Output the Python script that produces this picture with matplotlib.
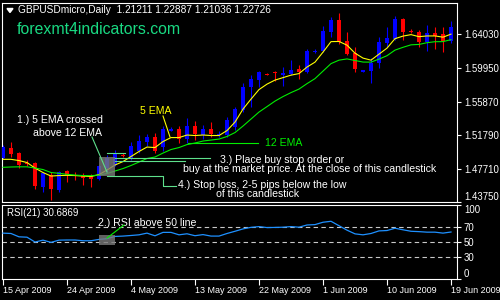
import matplotlib
matplotlib.use('Agg')
import matplotlib.pyplot as plt
from matplotlib.lines import Line2D
from matplotlib.patches import Rectangle, Polygon
import numpy as np

plt.rcParams['font.family'] = ['Liberation Sans', 'DejaVu Sans']

# ---------------- data ----------------
date_labels = ['15 Apr 2009', '24 Apr 2009', '4 May 2009', '13 May 2009',
               '22 May 2009', '1 Jun 2009', '10 Jun 2009', '19 Jun 2009']
date_bars = [0, 8, 16, 24, 32, 40, 48, 56]

opens = [1.4906, 1.5028, 1.4960, 1.4846, 1.4838, 1.4554, 1.4696, 1.4515, 1.4741, 1.4702,
         1.4693, 1.4684, 1.4648, 1.4781, 1.4818, 1.4942, 1.4903, 1.4991, 1.5097, 1.5154,
         1.5040, 1.5234, 1.5258, 1.5137, 1.5291, 1.5185, 1.5251, 1.5182, 1.5178, 1.5282,
         1.5485, 1.5760, 1.5849, 1.5925, 1.5940, 1.5913, 1.5922, 1.5979, 1.5950, 1.6188,
         1.6197, 1.6435, 1.6577, 1.6322, 1.6173, 1.5950, 1.5962, 1.6051, 1.6301, 1.6343,
         1.6589, 1.6447, 1.6435, 1.6313, 1.6415, 1.6407, 1.6326]
highs = [1.5060, 1.5093, 1.4979, 1.4878, 1.4858, 1.4737, 1.4737, 1.4749, 1.4757, 1.4733,
         1.4724, 1.4709, 1.4818, 1.4939, 1.5000, 1.4963, 1.5097, 1.5182, 1.5194, 1.5202,
         1.5291, 1.5279, 1.5291, 1.5384, 1.5352, 1.5303, 1.5343, 1.5230, 1.5396, 1.5525,
         1.5809, 1.5909, 1.5962, 1.5937, 1.5962, 1.6010, 1.6091, 1.6031, 1.6221, 1.6221,
         1.6504, 1.6609, 1.6658, 1.6435, 1.6253, 1.5976, 1.6116, 1.6374, 1.6488, 1.6625,
         1.6605, 1.6464, 1.6455, 1.6516, 1.6488, 1.6495, 1.6565]
lows = [1.4891, 1.4918, 1.4785, 1.4806, 1.4530, 1.4494, 1.4393, 1.4494, 1.4615, 1.4636,
        1.4575, 1.4547, 1.4636, 1.4733, 1.4806, 1.4915, 1.4878, 1.4960, 1.5048, 1.4960,
        1.4991, 1.5230, 1.5088, 1.5088, 1.5121, 1.5137, 1.5161, 1.5157, 1.5161, 1.5242,
        1.5464, 1.5525, 1.5760, 1.5906, 1.5840, 1.5776, 1.5916, 1.5857, 1.5930, 1.6180,
        1.6188, 1.6374, 1.6286, 1.6152, 1.5950, 1.5946, 1.5809, 1.5991, 1.6253, 1.6334,
        1.6334, 1.6415, 1.6246, 1.6204, 1.6221, 1.6192, 1.6301]
closes = [1.5033, 1.4948, 1.4818, 1.4836, 1.4563, 1.4717, 1.4523, 1.4737, 1.4693, 1.4684,
          1.4656, 1.4644, 1.4806, 1.4903, 1.4967, 1.4935, 1.5048, 1.5113, 1.5161, 1.4991,
          1.5251, 1.5258, 1.5137, 1.5291, 1.5194, 1.5251, 1.5194, 1.5194, 1.5364, 1.5493,
          1.5760, 1.5857, 1.5950, 1.5918, 1.5934, 1.5937, 1.5970, 1.5950, 1.6204, 1.6204,
          1.6443, 1.6577, 1.6313, 1.6164, 1.5982, 1.5970, 1.6059, 1.6313, 1.6362, 1.6589,
          1.6435, 1.6440, 1.6313, 1.6415, 1.6383, 1.6322, 1.6488]

ema5 = [1.4887, 1.4887, 1.4872, 1.4848, 1.4781, 1.4727, 1.4684, 1.4690, 1.4693, 1.4690,
        1.4684, 1.4678, 1.4702, 1.4757, 1.4818, 1.4860, 1.4921, 1.4982, 1.5036, 1.5030,
        1.5103, 1.5151, 1.5151, 1.5182, 1.5176, 1.5182, 1.5176, 1.5176, 1.5236, 1.5339,
        1.5497, 1.5618, 1.5734, 1.5800, 1.5849, 1.5879, 1.5909, 1.5928, 1.6007, 1.6067,
        1.6188, 1.6316, 1.6318, 1.6273, 1.6176, 1.6116, 1.6091, 1.6164, 1.6237, 1.6352,
        1.6383, 1.6401, 1.6376, 1.6385, 1.6385, 1.6370, 1.6407]
ema12 = [1.4790, 1.4794, 1.4796, 1.4796, 1.4781, 1.4763, 1.4727, 1.4717, 1.4705, 1.4696,
         1.4690, 1.4688, 1.4696, 1.4715, 1.4745, 1.4775, 1.4812, 1.4854, 1.4897, 1.4915,
         1.4963, 1.5006, 1.5030, 1.5066, 1.5085, 1.5109, 1.5121, 1.5133, 1.5164, 1.5212,
         1.5291, 1.5376, 1.5461, 1.5527, 1.5594, 1.5649, 1.5697, 1.5740, 1.5806, 1.5867,
         1.5958, 1.6049, 1.6091, 1.6106, 1.6087, 1.6068, 1.6067, 1.6104, 1.6145, 1.6213,
         1.6247, 1.6277, 1.6282, 1.6303, 1.6315, 1.6316, 1.6340]
rsi = [62, 61.5, 57, 56.5, 50, 52.5, 49.5, 52.5, 52.7, 52.7,
       51.7, 51.7, 53.5, 54.5, 57.5, 58, 58.8, 59.7, 62, 58.4,
       63, 63, 59.7, 61.1, 58.5, 60, 58, 58, 61.5, 64.5,
       67.7, 69.8, 70.8, 69.5, 69.7, 70, 70.8, 70, 73, 73.5,
       76.7, 78, 72, 66, 61, 59.7, 61.5, 65, 65.5, 68.6,
       66.5, 64.5, 64, 63.3, 63.3, 62, 63.5]

price_ticks = [1.64030, 1.59950, 1.55870, 1.51790, 1.47710, 1.43750]
rsi_ticks = [100, 70, 50, 30, 0]
rsi_levels = [70, 50, 30]

header = 'GBPUSDmicro,Daily  1.21211 1.22887 1.21036 1.22726'
site = 'forexmt4indicators.com'

# ---------------- figure ----------------
W, H = 500, 300
fig = plt.figure(figsize=(5, 3), dpi=100, facecolor='black')


def fx(x):
    return x / W


def fy(y):
    return 1 - y / H


ax1 = fig.add_axes([fx(2), fy(201.5), fx(457) - fx(2), fy(2.5) - fy(201.5)], facecolor='black')
ax2 = fig.add_axes([fx(2), fy(279), fx(457) - fx(2), fy(205) - fy(279)], facecolor='black', sharex=ax1)

for ax in (ax1, ax2):
    for s in ax.spines.values():
        s.set_color('white')
        s.set_linewidth(0.8)

x = np.arange(len(opens))
o = np.array(opens)
c = np.array(closes)
h = np.array(highs)
l = np.array(lows)
up = c >= o
cols = np.where(up, '#0000FF', '#FF0000')

ax1.vlines(x, l, h, colors=cols, linewidth=0.8, zorder=2)
body = np.abs(c - o)
minb = 0.0011
bottom = np.where(body < minb, (o + c) / 2 - minb / 2, np.minimum(o, c))
body = np.maximum(body, minb)
ax1.bar(x, body, bottom=bottom, width=0.5, color=cols, linewidth=0, zorder=3)

ax1.plot(x, ema5, color='#FFFF00', lw=0.8, zorder=4)
ax1.plot(x, ema12, color='#00EE00', lw=0.8, zorder=4)

ax1.set_xlim(-0.125, 56.75)
ax1.set_ylim(1.4375, 1.6791)
ax1.yaxis.tick_right()
ax1.set_yticks(price_ticks)
ax1.set_yticklabels(['%.5f' % p for p in price_ticks])
ax1.tick_params(axis='y', colors='white', labelsize=6.9, length=3, width=0.8, pad=2)
ax1.tick_params(axis='x', bottom=False, labelbottom=False)
ax1.yaxis.get_major_ticks()[-1].label2.set_va('bottom')

# RSI panel
ax2.plot(x, rsi, color='#1E90FF', lw=0.9, zorder=3)
for lv in rsi_levels:
    ax2.axhline(lv, color='#C8C8C8', lw=0.8, dashes=(4, 3), zorder=2)
ax2.set_ylim(0, 100)
ax2.yaxis.tick_right()
ax2.set_yticks(rsi_ticks)
ax2.set_yticklabels([str(v) for v in rsi_ticks])
ax2.tick_params(axis='y', colors='white', labelsize=6.9, length=3, width=0.8, pad=2)
yt = ax2.yaxis.get_major_ticks()
yt[0].label2.set_va('top')
yt[-1].label2.set_va('bottom')
ax2.set_xticks(date_bars)
ax2.set_xticklabels(date_labels, ha='left')
ax2.tick_params(axis='x', colors='white', labelsize=6.5, length=4, width=0.8, pad=1)

# ---------------- annotations ----------------
fig.add_artist(Polygon([(fx(7), fy(8.5)), (fx(13), fy(8.5)), (fx(10), fy(12.5))],
                       closed=True, transform=fig.transFigure, color='white'))
fig.text(fx(18), fy(10), header, color='white', fontsize=7.3, va='center', ha='left')
fig.text(fx(17), fy(30), site, color='#19D982', fontsize=11.4, va='center', ha='left')

fs = 7.6
fig.text(fx(103), fy(120), '1.) 5 EMA crossed', color='white', fontsize=fs, va='center', ha='right')
fig.text(fx(102), fy(132.5), 'above 12 EMA', color='white', fontsize=fs, va='center', ha='right')
fig.text(fx(140), fy(111.5), '5 EMA', color='#FFFF00', fontsize=fs, va='center', ha='left')
fig.text(fx(265), fy(143.5), '12 EMA', color='#00EE00', fontsize=fs, va='center', ha='left')
fig.text(fx(220), fy(159.6), '3.) Place buy stop order or', color='white', fontsize=fs, va='center', ha='left')
fig.text(fx(183), fy(169.2), 'buy at the market price. At the close of this candlestick',
         color='white', fontsize=fs, va='center', ha='left')
fig.text(fx(178), fy(184.5), '4.) Stop loss, 2-5 pips below the low', color='white', fontsize=fs,
         va='center', ha='left')
fig.text(fx(216), fy(194), 'of this candlestick', color='white', fontsize=fs, va='center', ha='left')
fig.text(fx(7), fy(212.5), 'RSI(21) 30.6869', color='white', fontsize=7, va='center', ha='left')
fig.text(fx(98), fy(222.5), '2.) RSI above 50 line', color='white', fontsize=fs, va='center', ha='left')

# highlight boxes
for (x0, y0, x1, y1) in [(99, 157, 115, 176), (99, 235, 115, 245)]:
    fig.add_artist(Rectangle((fx(x0), fy(y1)), fx(x1) - fx(x0), fy(y0) - fy(y1),
                             transform=fig.transFigure, facecolor='#7A7A7A', alpha=0.8,
                             edgecolor='none', zorder=5))


def pline(pts, color, lw=0.8):
    fig.add_artist(Line2D([fx(p[0]) for p in pts], [fy(p[1]) for p in pts],
                          transform=fig.transFigure, color=color, lw=lw, zorder=6))


pc = '#5EE08C'
pline([(92, 137), (107, 172)], pc)
pline([(163, 116), (170, 137)], '#FFFF00')
pline([(188, 143.5), (258, 143.5)], '#00EE00')
pline([(107, 152.5), (125, 152.5)], pc)
pline([(115, 157.5), (210, 157.5)], pc)
pline([(115, 161), (185, 161)], pc)
pline([(107, 176), (163, 176), (163, 186), (176, 186)], pc)
pline([(107, 238), (124, 225)], '#00EE00')

fig.savefig('out.png', dpi=100, facecolor='black')
